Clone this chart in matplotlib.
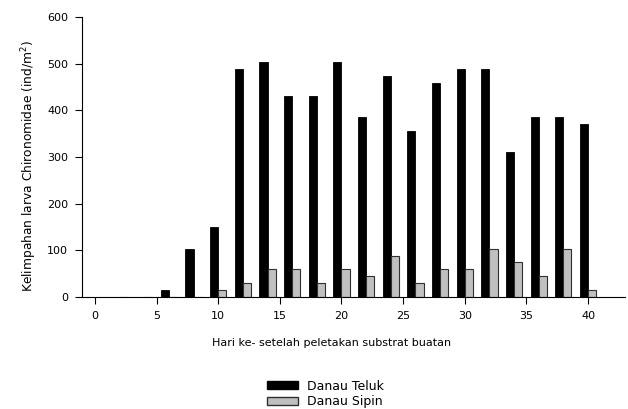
import numpy as np
import matplotlib
matplotlib.use("Agg")
import matplotlib.pyplot as plt
from matplotlib.patches import Patch

plt.rcParams["font.family"] = ["DejaVu Sans"]

# data
days = [2, 4, 6, 8, 10, 12, 14, 16, 18, 20, 22, 24, 26, 28, 30, 32, 34, 36, 38, 40]
teluk = [0, 0, 15, 103, 150, 489, 503, 430, 430, 503, 385, 474, 356, 459, 489, 489, 311, 385, 385, 371]
sipin = [0, 0, 0, 0, 15, 29, 59, 59, 29, 59, 44, 88, 29, 59, 59, 103, 74, 44, 103, 15]
series_names = ["Danau Teluk", "Danau Sipin"]
xticks = [0, 5, 10, 15, 20, 25, 30, 35, 40]
yticks = [0, 100, 200, 300, 400, 500, 600]

BAR_W = 0.66
FS = 8

fig = plt.figure(figsize=(6.28, 4.09), dpi=100)
ax = fig.add_axes([0.1306, 0.2738, 0.8646, 0.6846])

x = np.array(days, dtype=float)
ax.bar(x - BAR_W / 2, teluk, width=BAR_W, color="black", edgecolor="black", linewidth=0.6)
ax.bar(x + BAR_W / 2, sipin, width=BAR_W, color="#c0c0c0", edgecolor="#303030", linewidth=0.8)

ax.set_xlim(-1.05, 43.0)
ax.set_ylim(0, 600)
ax.set_xticks(xticks)
ax.set_yticks(yticks)
ax.tick_params(direction="out", length=5, width=0.8, labelsize=FS, colors="black", pad=5)

for side in ["top", "right"]:
    ax.spines[side].set_visible(False)
for side in ["left", "bottom"]:
    ax.spines[side].set_linewidth(0.8)

ax.set_xlabel("Hari ke- setelah peletakan substrat buatan", fontsize=FS)
ax.xaxis.set_label_coords(0.46, -0.145)
ax.set_ylabel("Kelimpahan larva Chironomidae (ind/m$^\\mathregular{2}$)", fontsize=8.8)
ax.yaxis.set_label_coords(-0.08, 0.468)

handles = [
    Patch(facecolor="black", edgecolor="black", label=series_names[0]),
    Patch(facecolor="#c0c0c0", edgecolor="#303030", label=series_names[1]),
]
fig.legend(handles=handles, loc="center", bbox_to_anchor=(0.518, 0.037),
           frameon=False, fontsize=9, handlelength=2.5, handleheight=0.6,
           handletextpad=0.7, labelspacing=0.2, borderpad=0)

fig.savefig("out.png", dpi=100)
